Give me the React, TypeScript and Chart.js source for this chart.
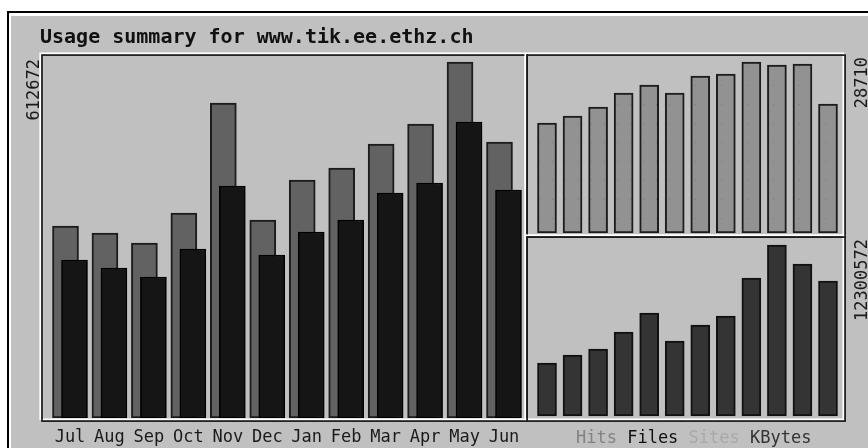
import React, { useEffect, useRef } from 'react';
import { Chart, registerables } from 'chart.js';

Chart.register(...registerables);

// ---------- data ----------
const TITLE = 'Usage summary for www.tik.ee.ethz.ch';
const MONTHS = ['Jul', 'Aug', 'Sep', 'Oct', 'Nov', 'Dec', 'Jan', 'Feb', 'Mar', 'Apr', 'May', 'Jun'];
const HITS = [330400, 318400, 301200, 352800, 542100, 340800, 409600, 430300, 471600, 506000, 612672, 475000];
const FILES = [271900, 258200, 242700, 290900, 399300, 280500, 320100, 340800, 387200, 404400, 509400, 392400];
const SITES = [18470, 19640, 21160, 23510, 24850, 23510, 26360, 26700, 28710, 28210, 28370, 21660];
const KBYTES = [3812500, 4388000, 4819600, 6042400, 7409100, 5395000, 6545900, 7193300, 9926800, 12300572, 10933800, 9711000];
const LEGEND_LABELS = ['Hits', 'Files', 'Sites', 'KBytes'];

// ---------- layout / style ----------
const W = 868;
const H = 448;
const AREA = { left: 42, top: 55, right: 845, bottom: 418 };
const FONT = '"DejaVu Sans Mono", monospace';
const BG = '#c0c0c0';
const LEGEND_COLORS = ['#838383', '#111111', '#a9a9a9', '#333333'];

// horizontal linear range so that value v1 -> pixel p1 and v2 -> p2
function hRange(v1: number, p1: number, v2: number, p2: number) {
  const k = (p2 - p1) / (v2 - v1);
  return { min: v1 - (p1 - AREA.left) / k, max: v1 + (AREA.right - p1) / k, k };
}
// vertical linear range: value v1 -> pixel p1, v2 -> p2
function vRange(v1: number, p1: number, v2: number, p2: number) {
  const k = (p1 - p2) / (v2 - v1);
  return { min: v1 - (AREA.bottom - p1) / k, max: v1 + (p1 - AREA.top) / k };
}

const maxOf = (a: number[]) => Math.max(...a);

const XL = hRange(0, 70, 11, 504);
const XR = hRange(0, 547, 11, 828);
const YL = vRange(0, 418, maxOf(HITS), 62);
const YS = vRange(0, 233, maxOf(SITES), 62);
const YK = vRange(0, 416, maxOf(KBYTES), 245);
const PAIR_SHIFT = 4.5 / XL.k;

function etched(ctx: CanvasRenderingContext2D, x0: number, y0: number, x1: number, y1: number) {
  ctx.lineWidth = 1.7;
  ctx.strokeStyle = '#ffffff';
  ctx.strokeRect(x0, y0, x1 - x0, y1 - y0);
  ctx.strokeStyle = '#1c1c1c';
  ctx.strokeRect(x0 + 1.8, y0 + 1.8, x1 - x0, y1 - y0);
}

function vLabel(ctx: CanvasRenderingContext2D, text: string, x: number, y: number) {
  ctx.save();
  ctx.translate(x, y);
  ctx.rotate(-Math.PI / 2);
  ctx.textAlign = 'right';
  ctx.textBaseline = 'alphabetic';
  ctx.fillText(text, 0, 0);
  ctx.restore();
}

const decor = {
  id: 'decor',
  beforeDraw(chart: any) {
    const ctx: CanvasRenderingContext2D = chart.ctx;
    ctx.save();
    ctx.fillStyle = '#ffffff';
    ctx.fillRect(0, 0, W, H);
    ctx.fillStyle = '#000000';
    ctx.fillRect(7, 11, W - 7, 2);
    ctx.fillRect(7, 11, 2, H - 11);
    ctx.fillStyle = BG;
    ctx.fillRect(11, 16, W - 11, H - 16);
    ctx.fillStyle = '#111111';
    ctx.font = `bold 20px ${FONT}`;
    ctx.textBaseline = 'alphabetic';
    ctx.textAlign = 'left';
    ctx.fillText(TITLE, 40, 43);
    ctx.restore();
  },
  afterDraw(chart: any) {
    const ctx: CanvasRenderingContext2D = chart.ctx;
    ctx.save();
    etched(ctx, 40.2, 53.3, 525.3, 419.3);
    etched(ctx, 525.3, 53.3, 843.3, 235.3);
    etched(ctx, 525.3, 235.3, 843.3, 419.3);

    ctx.fillStyle = '#1a1a1a';
    ctx.font = `17px ${FONT}`;
    vLabel(ctx, String(maxOf(HITS)), 39, 59);
    vLabel(ctx, String(maxOf(SITES)), 867, 57);
    vLabel(ctx, String(maxOf(KBYTES)), 867, 239);

    let x = 576;
    ctx.textAlign = 'left';
    ctx.textBaseline = 'alphabetic';
    LEGEND_LABELS.forEach((t, i) => {
      ctx.fillStyle = LEGEND_COLORS[i];
      ctx.fillText(t, x, 443);
      x += ctx.measureText(t + ' ').width;
    });
    ctx.restore();
  },
};

function makePattern(): CanvasPattern | string {
  const c = document.createElement('canvas');
  c.width = 13;
  c.height = 19;
  const g = c.getContext('2d');
  if (!g) return '#929292';
  g.fillStyle = '#929292';
  g.fillRect(0, 0, 13, 19);
  g.fillStyle = '#7c7c7c';
  g.fillRect(6, 9, 1, 1);
  const p = g.createPattern(c, 'repeat');
  return p || '#929292';
}

export default function App() {
  const ref = useRef<HTMLCanvasElement>(null);

  useEffect(() => {
    const canvas = ref.current;
    if (!canvas) return;
    const sitesFill = makePattern();
    const chart = new Chart(canvas, {
      type: 'bar',
      data: {
        datasets: [
          {
            label: 'Files',
            data: FILES.map((v, i) => ({ x: i + PAIR_SHIFT, y: v })),
            xAxisID: 'x',
            yAxisID: 'y',
            backgroundColor: '#151515',
            borderColor: '#000000',
            borderWidth: 1.5,
            borderSkipped: false,
            barThickness: 26,
            grouped: false,
            order: 1,
          } as any,
          {
            label: 'Hits',
            data: HITS.map((v, i) => ({ x: i - PAIR_SHIFT, y: v })),
            xAxisID: 'x',
            yAxisID: 'y',
            backgroundColor: '#626262',
            borderColor: '#1c1c1c',
            borderWidth: 2,
            borderSkipped: false,
            barThickness: 26,
            grouped: false,
            order: 2,
          } as any,
          {
            label: 'Sites',
            data: SITES.map((v, i) => ({ x: i, y: v })),
            xAxisID: 'xr',
            yAxisID: 'yS',
            backgroundColor: sitesFill as any,
            borderColor: '#1c1c1c',
            borderWidth: 2,
            borderSkipped: false,
            barThickness: 19,
            grouped: false,
            order: 3,
          } as any,
          {
            label: 'KBytes',
            data: KBYTES.map((v, i) => ({ x: i, y: v })),
            xAxisID: 'xr',
            yAxisID: 'yK',
            backgroundColor: '#343434',
            borderColor: '#111111',
            borderWidth: 2,
            borderSkipped: false,
            barThickness: 19,
            grouped: false,
            order: 4,
          } as any,
        ],
      },
      options: {
        responsive: false,
        animation: false,
        devicePixelRatio: 1,
        layout: { padding: { left: AREA.left, right: W - AREA.right, top: AREA.top, bottom: 0 } },
        plugins: { legend: { display: false }, title: { display: false }, tooltip: { enabled: false } },
        scales: {
          x: {
            type: 'linear',
            position: 'bottom',
            bounds: 'data',
            offset: false,
            min: XL.min,
            max: XL.max,
            afterFit: (s: any) => {
              s.height = H - AREA.bottom;
              s.paddingLeft = 0;
              s.paddingRight = 0;
            },
            afterBuildTicks: (s: any) => {
              s.ticks = MONTHS.map((_, i) => ({ value: i }));
            },
            grid: { display: false, drawTicks: false, offset: false },
            border: { display: false },
            ticks: {
              autoSkip: false,
              maxRotation: 0,
              padding: 9,
              color: '#1a1a1a',
              font: { family: FONT, size: 17 },
              callback: (v: any) => MONTHS[Math.round(Number(v))] ?? '',
            },
          } as any,
          xr: { type: 'linear', display: false, bounds: 'data', offset: false, min: XR.min, max: XR.max } as any,
          y: { type: 'linear', display: false, bounds: 'data', min: YL.min, max: YL.max } as any,
          yS: { type: 'linear', display: false, bounds: 'data', min: YS.min, max: YS.max } as any,
          yK: { type: 'linear', display: false, bounds: 'data', min: YK.min, max: YK.max } as any,
        },
      },
      plugins: [decor],
    } as any);
    return () => chart.destroy();
  }, []);

  return (
    <div style={{ position: 'fixed', left: 0, top: 0, width: W, height: H, background: '#ffffff' }}>
      <canvas ref={ref} width={W} height={H} style={{ display: 'block', width: W, height: H }} />
    </div>
  );
}
